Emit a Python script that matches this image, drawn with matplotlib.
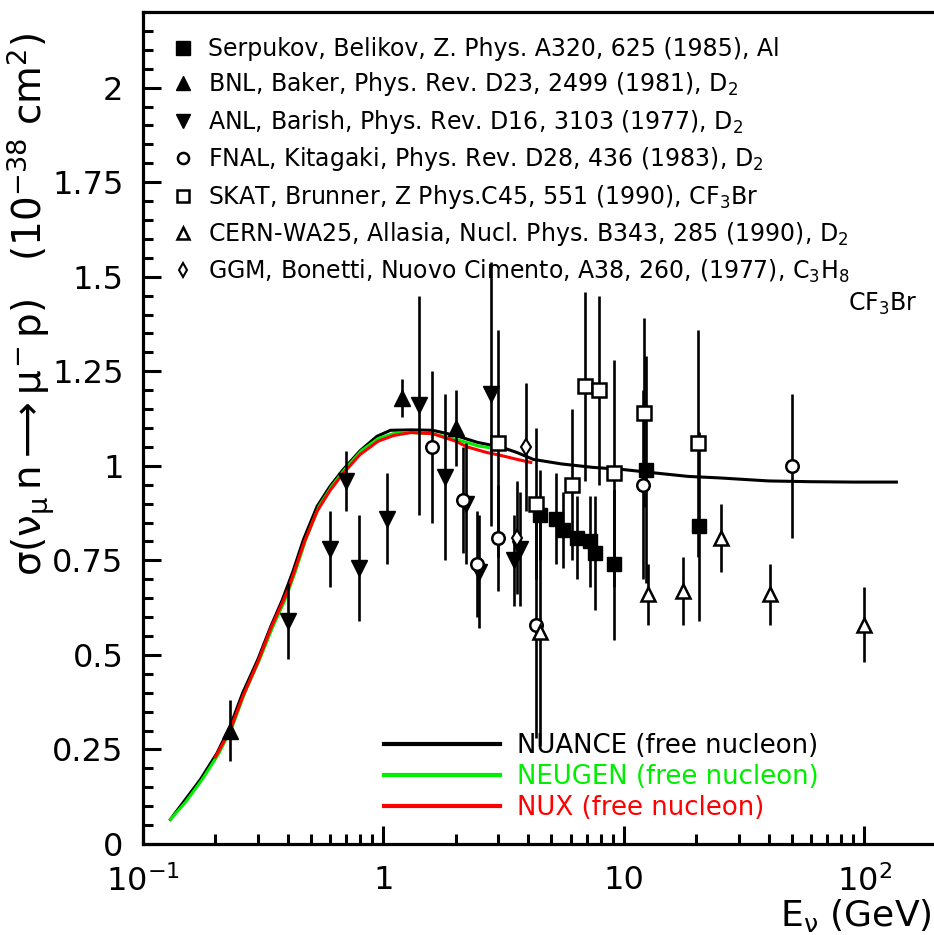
import numpy as np
import matplotlib
matplotlib.use('Agg')
import matplotlib.pyplot as plt
from matplotlib.lines import Line2D
from matplotlib.ticker import FixedLocator, FixedFormatter, NullFormatter, MultipleLocator

plt.rcParams['font.family'] = ['DejaVu Sans']
plt.rcParams['mathtext.fontset'] = 'custom'
plt.rcParams['mathtext.rm'] = 'DejaVu Sans'
plt.rcParams['mathtext.it'] = 'DejaVu Sans'
plt.rcParams['mathtext.bf'] = 'DejaVu Sans:bold'

# ---------------- model curves ----------------
nuance_E = [0.13, 0.147, 0.173, 0.203, 0.23, 0.26, 0.30, 0.34, 0.38, 0.42, 0.465, 0.53, 0.60, 0.68,
            0.80, 0.94, 1.07, 1.3, 1.6, 2.0, 2.46, 3.1, 3.6, 4.2, 5.5, 7.4, 10, 14, 18.5, 25, 40, 60, 90, 136]
nuance_y = [0.065, 0.11, 0.17, 0.24, 0.31, 0.40, 0.487, 0.575, 0.646, 0.72, 0.805, 0.893, 0.946, 0.99,
            1.04, 1.078, 1.094, 1.095, 1.094, 1.08, 1.062, 1.049, 1.035, 1.017, 1.005, 0.996, 0.99, 0.98,
            0.972, 0.968, 0.96, 0.958, 0.957, 0.957]

neugen_E = [0.13, 0.15, 0.176, 0.207, 0.235, 0.265, 0.305, 0.347, 0.39, 0.43, 0.475, 0.54, 0.61, 0.69,
            0.81, 0.95, 1.1, 1.3, 1.6, 2.0, 2.5, 3.0]
neugen_y = [0.065, 0.11, 0.17, 0.24, 0.31, 0.40, 0.487, 0.575, 0.646, 0.72, 0.805, 0.893, 0.946, 0.99,
            1.04, 1.072, 1.085, 1.088, 1.085, 1.07, 1.052, 1.045]

nux_E = [0.2, 0.23, 0.26, 0.30, 0.34, 0.40, 0.47, 0.53, 0.60, 0.68, 0.80, 0.95, 1.1, 1.3, 1.6, 2.0,
         2.23, 2.7, 3.1, 3.6, 4.1]
nux_y = [0.23, 0.30, 0.39, 0.48, 0.57, 0.67, 0.80, 0.88, 0.935, 0.98, 1.03, 1.065, 1.08, 1.088, 1.085,
         1.065, 1.05, 1.035, 1.027, 1.017, 1.009]

# ---------------- data sets ----------------
serp_E = [4.5, 5.2, 5.6, 6.4, 7.2, 7.6, 9.1, 12.4, 20.5]
serp_y = [0.87, 0.86, 0.83, 0.81, 0.80, 0.77, 0.74, 0.99, 0.84]
serp_err = [0.12, 0.12, 0.10, 0.11, 0.12, 0.15, 0.20, 0.30, 0.25]

bnl_E = [0.23, 1.2, 2.0]
bnl_y = [0.30, 1.18, 1.10]
bnl_err = [0.08, 0.05, 0.10]

anl_E = [0.40, 0.60, 0.70, 0.79, 1.03, 1.40, 1.8, 2.2, 2.5, 2.8, 3.5, 3.7]
anl_y = [0.59, 0.78, 0.96, 0.73, 0.86, 1.16, 0.97, 0.90, 0.72, 1.19, 0.75, 0.78]
anl_err = [0.10, 0.10, 0.08, 0.14, 0.12, 0.29, 0.22, 0.16, 0.15, 0.35, 0.12, 0.15]

fnal_E = [1.6, 2.15, 2.45, 3.0, 4.3, 12.0, 50.0]
fnal_y = [1.05, 0.91, 0.74, 0.81, 0.58, 0.95, 1.00]
fnal_err = [0.20, 0.14, 0.14, 0.14, 0.30, 0.25, 0.19]

skat_E = [3.0, 4.3, 6.1, 6.9, 7.9, 9.1, 12.1, 20.3]
skat_y = [1.06, 0.90, 0.95, 1.21, 1.20, 0.98, 1.14, 1.06]
skat_err = [0.30, 0.20, 0.20, 0.25, 0.25, 0.30, 0.25, 0.30]

cern_E = [4.5, 12.6, 17.6, 25.4, 40.6, 100.0]
cern_y = [0.56, 0.66, 0.67, 0.81, 0.66, 0.58]
cern_err = [0.30, 0.08, 0.09, 0.09, 0.08, 0.10]

ggm_E = [3.6, 3.9]
ggm_y = [0.81, 1.05]
ggm_err = [0.15, 0.17]

data_labels = [
    'Serpukov, Belikov, Z. Phys. A320, 625 (1985), Al',
    'BNL, Baker, Phys. Rev. D23, 2499 (1981), D$_2$',
    'ANL, Barish, Phys. Rev. D16, 3103 (1977), D$_2$',
    'FNAL, Kitagaki, Phys. Rev. D28, 436 (1983), D$_2$',
    'SKAT, Brunner, Z Phys.C45, 551 (1990), CF$_3$Br',
    'CERN-WA25, Allasia, Nucl. Phys. B343, 285 (1990), D$_2$',
    'GGM, Bonetti, Nuovo Cimento, A38, 260, (1977), C$_3$H$_8$',
]
curve_labels = ['NUANCE (free nucleon)', 'NEUGEN (free nucleon)', 'NUX (free nucleon)']
x_ticks = [0.1, 1, 10, 100]
x_ticklabels = ['10$^{-1}$', '1', '10', '10$^{2}$']
y_ticks = [0, 0.25, 0.5, 0.75, 1, 1.25, 1.5, 1.75, 2]
y_ticklabels = ['0', '0.25', '0.5', '0.75', '1', '1.25', '1.5', '1.75', '2']

# ---------------- figure ----------------
fig = plt.figure(figsize=(9.34, 9.35), dpi=100)
ax = fig.add_axes([143/934, 1-844/935, 791/934, 832/935])

lw_axis = 2.3
for s in ['left', 'bottom', 'top']:
    ax.spines[s].set_linewidth(lw_axis)
ax.spines['right'].set_visible(False)

ax.plot(nuance_E, nuance_y, color='black', lw=2.2, zorder=3)
ax.plot(neugen_E, neugen_y, color='#00ee00', lw=2.2, zorder=4)
ax.plot(nux_E, nux_y, color='#ff0000', lw=2.2, zorder=5)

common = dict(ls='none', ecolor='black', elinewidth=1.9, capsize=0, zorder=6)
ms = 10
ax.errorbar(serp_E, serp_y, yerr=serp_err, marker='s', ms=ms, mfc='black', mec='black', **common)
ax.errorbar(bnl_E, bnl_y, yerr=bnl_err, marker='^', ms=ms+1, mfc='black', mec='black', **common)
ax.errorbar(anl_E, anl_y, yerr=anl_err, marker='v', ms=ms+1, mfc='black', mec='black', **common)
ax.errorbar(fnal_E, fnal_y, yerr=fnal_err, marker='o', ms=ms-1, mfc='white', mec='black', mew=1.8, **common)
ax.errorbar(skat_E, skat_y, yerr=skat_err, marker='s', ms=ms, mfc='white', mec='black', mew=1.8, **common)
ax.errorbar(cern_E, cern_y, yerr=cern_err, marker='^', ms=ms, mfc='white', mec='black', mew=1.8, **common)
ax.errorbar(ggm_E, ggm_y, yerr=ggm_err, marker='d', ms=ms-2, mfc='white', mec='black', mew=1.5, **common)

ax.set_xscale('log')
ax.set_xlim(0.1, 195)
ax.set_ylim(0, 2.2)

ax.xaxis.set_major_locator(FixedLocator(x_ticks))
ax.xaxis.set_major_formatter(FixedFormatter(x_ticklabels))
minors = [m * d for d in [0.1, 1, 10, 100] for m in range(2, 10) if m * d < 195]
ax.xaxis.set_minor_locator(FixedLocator(minors))
ax.xaxis.set_minor_formatter(NullFormatter())
ax.yaxis.set_major_locator(FixedLocator(y_ticks))
ax.yaxis.set_major_formatter(FixedFormatter(y_ticklabels))
ax.yaxis.set_minor_locator(MultipleLocator(0.05))

ax.tick_params(axis='both', which='major', direction='in', length=13, width=2.2, labelsize=23)
ax.tick_params(axis='both', which='minor', direction='in', length=7, width=2.2)
ax.tick_params(axis='x', which='both', top=False, pad=15)
ax.tick_params(axis='y', which='both', right=False, pad=14)

# data legend
handles = [
    Line2D([], [], ls='none', marker='s', ms=ms, mfc='black', mec='black'),
    Line2D([], [], ls='none', marker='^', ms=ms, mfc='black', mec='black'),
    Line2D([], [], ls='none', marker='v', ms=ms, mfc='black', mec='black'),
    Line2D([], [], ls='none', marker='o', ms=ms-2, mfc='white', mec='black', mew=1.8),
    Line2D([], [], ls='none', marker='s', ms=ms-1, mfc='white', mec='black', mew=1.8),
    Line2D([], [], ls='none', marker='^', ms=ms-1, mfc='white', mec='black', mew=1.8),
    Line2D([], [], ls='none', marker='d', ms=ms-3, mfc='white', mec='black', mew=1.5),
]
leg1 = ax.legend(handles, data_labels, loc='upper left', bbox_to_anchor=((171-143)/791, (844-37)/832),
                 frameon=False, fontsize=17, handlelength=1.0, handletextpad=0.57, labelspacing=0.4,
                 borderpad=0, borderaxespad=0)
ax.add_artist(leg1)
ax.text((917-143)/791, (844-304)/832, 'CF$_3$Br', transform=ax.transAxes, ha='right', va='center', fontsize=17)

# curve legend
ch = [Line2D([], [], color='black', lw=3), Line2D([], [], color='#00ee00', lw=3), Line2D([], [], color='#ff0000', lw=3)]
leg2 = ax.legend(ch, curve_labels, loc='upper left', bbox_to_anchor=((384-143)/791, (844-733)/832),
                 frameon=False, fontsize=18.7, handlelength=116/26.0, handletextpad=0.65, labelspacing=0.2,
                 borderpad=0, borderaxespad=0, labelcolor='linecolor')

fig.text(31/934, 1-305/935, r'$\sigma(\nu_{\mu}\,n \longrightarrow \mu^{-}\,p)$   (10$^{-38}$ cm$^{2}$)',
         rotation=90, ha='center', va='center', fontsize=28)
fig.text(932/934, 1-915/935, r'E$_{\nu}$ (GeV)', ha='right', va='center', fontsize=26)

fig.savefig('out.png', dpi=100)
